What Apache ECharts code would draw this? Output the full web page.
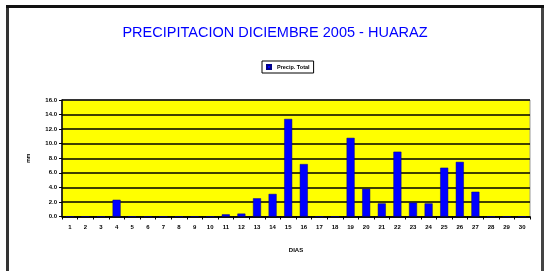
<!DOCTYPE html>
<html>
<head>
<meta charset="utf-8">
<script src="https://cdn.jsdelivr.net/npm/echarts@6/dist/echarts.min.js"></script>
<style>
html,body{margin:0;padding:0;background:#fff;}
#c{width:550px;height:271px;}
</style>
</head>
<body>
<div id="c"></div>
<script>
var days = ['1','2','3','4','5','6','7','8','9','10','11','12','13','14','15','16','17','18','19','20','21','22','23','24','25','26','27','28','29','30'];
var precipTotal = [0,0,0,2.3,0,0,0,0,0,0,0.3,0.4,2.5,3.1,13.4,7.2,0,0,10.8,3.8,1.8,8.9,1.9,1.8,6.7,7.5,3.4,0,0,0];
var yTicks = ['0.0','2.0','4.0','6.0','8.0','10.0','12.0','14.0','16.0'];

var chart = echarts.init(document.getElementById('c'), null, {renderer:'canvas'});
chart.setOption({
  animation:false,
  backgroundColor:'#fff',
  title:{
    text:'PRECIPITACION DICIEMBRE 2005 - HUARAZ',
    left:'center', top:20,
    textStyle:{color:'#0000FF', fontSize:14.5, fontWeight:'normal', fontFamily:'Liberation Sans, Arial'}
  },
  legend:{
    top:61, left:262,
    itemWidth:4, itemHeight:4, itemGap:2,
    padding:[3,4,3,4],
    borderColor:'#000', borderWidth:1,
    icon:'rect',
    textStyle:{fontSize:5.5, fontWeight:'bold', color:'#000', fontFamily:'Liberation Sans, Arial', padding:[0,0,0,1]},
    data:['Precip. Total']
  },
  grid:{left:62, right:20, top:100, height:116.5, show:true, backgroundColor:'#FFFF00', borderColor:'#999', borderWidth:1},
  xAxis:{
    type:'category', data:days,
    name:'DIAS', nameLocation:'middle', nameGap:31,
    nameTextStyle:{fontSize:6, fontWeight:'bold', color:'#000', fontFamily:'Liberation Sans, Arial'},
    axisLine:{lineStyle:{color:'#000', width:1.5}},
    axisTick:{show:true, length:3, lineStyle:{color:'#000'}},
    axisLabel:{fontSize:6, fontWeight:'bold', color:'#000', margin:8, interval:0, fontFamily:'Liberation Sans, Arial'}
  },
  yAxis:{
    type:'value', min:0, max:16, interval:2,
    name:'mm', nameLocation:'middle', nameGap:31, nameRotate:90,
    nameTextStyle:{fontSize:5, fontWeight:'bold', color:'#000', fontFamily:'Liberation Sans, Arial'},
    axisLine:{show:true, lineStyle:{color:'#000', width:1.5}},
    axisTick:{show:true, length:3, lineStyle:{color:'#000'}},
    axisLabel:{fontSize:6, fontWeight:'bold', color:'#000', margin:5, fontFamily:'Liberation Sans, Arial',
      formatter:function(v){ return yTicks[Math.round(v/2)]; }},
    splitLine:{show:true, lineStyle:{color:'#000', width:1.5}}
  },
  series:[{
    name:'Precip. Total', type:'bar', data:precipTotal, barWidth:8,
    itemStyle:{color:'#0000FF', borderColor:'#00008B', borderWidth:0.5}
  }],
  graphic:[
    {type:'rect', shape:{x:6, y:5, width:3, height:270}, style:{fill:'#333'}, silent:true},
    {type:'rect', shape:{x:541, y:5, width:3, height:270}, style:{fill:'#444'}, silent:true},
    {type:'rect', shape:{x:6, y:5, width:538, height:3}, style:{fill:'#111'}, silent:true}
  ]
});
</script>
</body>
</html>
